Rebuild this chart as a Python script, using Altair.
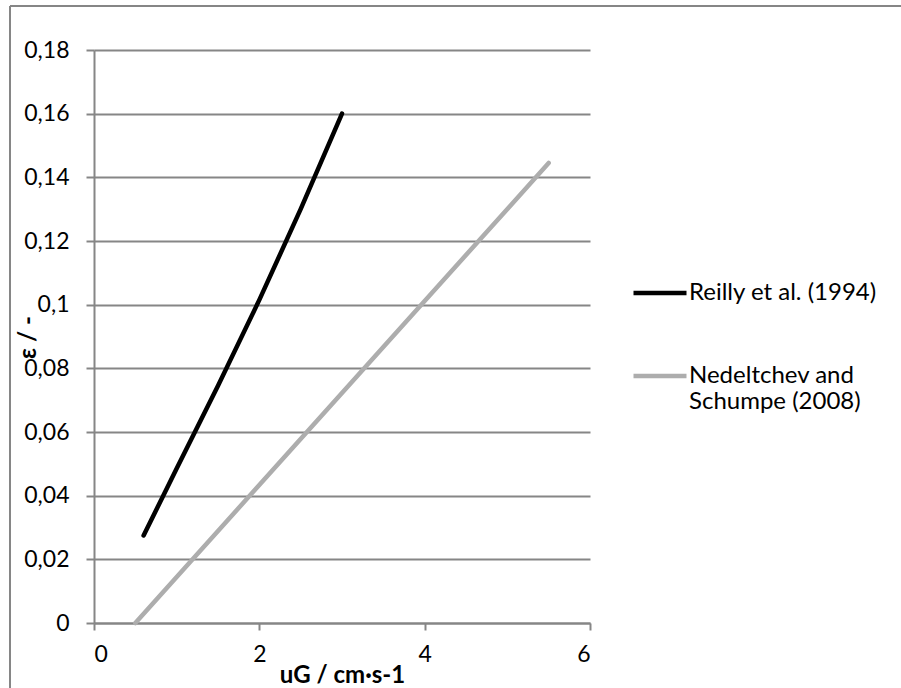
import altair as alt
import pandas as pd

# Data
reilly_x = [0.6, 1.0, 1.5, 2.0, 2.5, 3.0]
reilly_y = [0.0275, 0.0485, 0.0745, 0.1015, 0.130, 0.160]
nedel_x = [0.5, 5.5]
nedel_y = [0.0, 0.1445]
series_names = ["Reilly et al. (1994)", "Nedeltchev and Schumpe (2008)"]
series_colors = ["#000000", "#ADADAD"]
x_ticks = [0, 2, 4, 6]
y_ticks = [0, 0.02, 0.04, 0.06, 0.08, 0.1, 0.12, 0.14, 0.16, 0.18]

rows = []
for i, (x, y) in enumerate(zip(reilly_x, reilly_y)):
    rows.append({"series": series_names[0], "uG": x, "eps": y, "order": i})
for i, (x, y) in enumerate(zip(nedel_x, nedel_y)):
    rows.append({"series": series_names[1], "uG": x, "eps": y, "order": i})
df = pd.DataFrame(rows)

FONT = "Lato"
GRID = "#868686"

lines = alt.Chart(df).mark_line(strokeWidth=4.5, strokeCap="round", strokeJoin="round").encode(
    x=alt.X("uG:Q",
            scale=alt.Scale(domain=[0, 6], nice=False),
            axis=alt.Axis(title="uG / cm·s-1", values=x_ticks, grid=False,
                          tickSize=7, tickColor=GRID, tickWidth=2,
                          domainColor=GRID, domainWidth=2,
                          labelFontSize=23, labelColor="#000000", labelFont=FONT,
                          labelPadding=13,
                          titleFontSize=24, titleFontWeight="bold", titleFont=FONT,
                          titleColor="#000000", titlePadding=-3)),
    y=alt.Y("eps:Q",
            scale=alt.Scale(domain=[0, 0.18], nice=False),
            axis=alt.Axis(title="ε / -", values=y_ticks, grid=True,
                          gridColor=GRID, gridWidth=2,
                          tickSize=8, tickColor=GRID, tickWidth=2,
                          domainColor=GRID, domainWidth=2,
                          labelExpr="replace(format(datum.value, '.2~f'), '.', ',')",
                          labelFontSize=23, labelColor="#000000", labelFont=FONT,
                          labelPadding=17,
                          titleFontSize=24, titleFontWeight="bold", titleFont=FONT,
                          titleColor="#000000", titleX=-66, titleY=287,
                          titleBaseline="middle")),
    color=alt.Color("series:N",
                    scale=alt.Scale(domain=series_names, range=series_colors),
                    legend=alt.Legend(title=None, orient="none", legendX=537, legendY=214,
                                      symbolType="stroke", symbolSize=2809,
                                      symbolStrokeWidth=4.5, labelOffset=0,
                                      labelFont=FONT, labelFontSize=24,
                                      labelColor="#000000", labelLimit=400,
                                      rowPadding=42, padding=0,
                                      labelExpr="datum.label == 'Nedeltchev and Schumpe (2008)' ? ['Nedeltchev and', 'Schumpe (2008)'] : datum.label")),
    order="order:O",
)

frame_left = alt.Chart(df).mark_rule(color=GRID, strokeWidth=2).encode(
    x=alt.value(-84), y=alt.value(-44), y2=alt.value(700))
frame_top = alt.Chart(df).mark_rule(color=GRID, strokeWidth=2).encode(
    x=alt.value(-84), x2=alt.value(900), y=alt.value(-44))

chart = alt.layer(frame_left, frame_top, lines).properties(
    width=496, height=573,
    padding={"left": 94, "top": 50, "right": 311, "bottom": 65},
    autosize=alt.AutoSizeParams(type="none"),
    background="#FFFFFF",
).configure_view(stroke=None)

chart.save("out.html", embed_options={"renderer": "svg", "actions": False})
